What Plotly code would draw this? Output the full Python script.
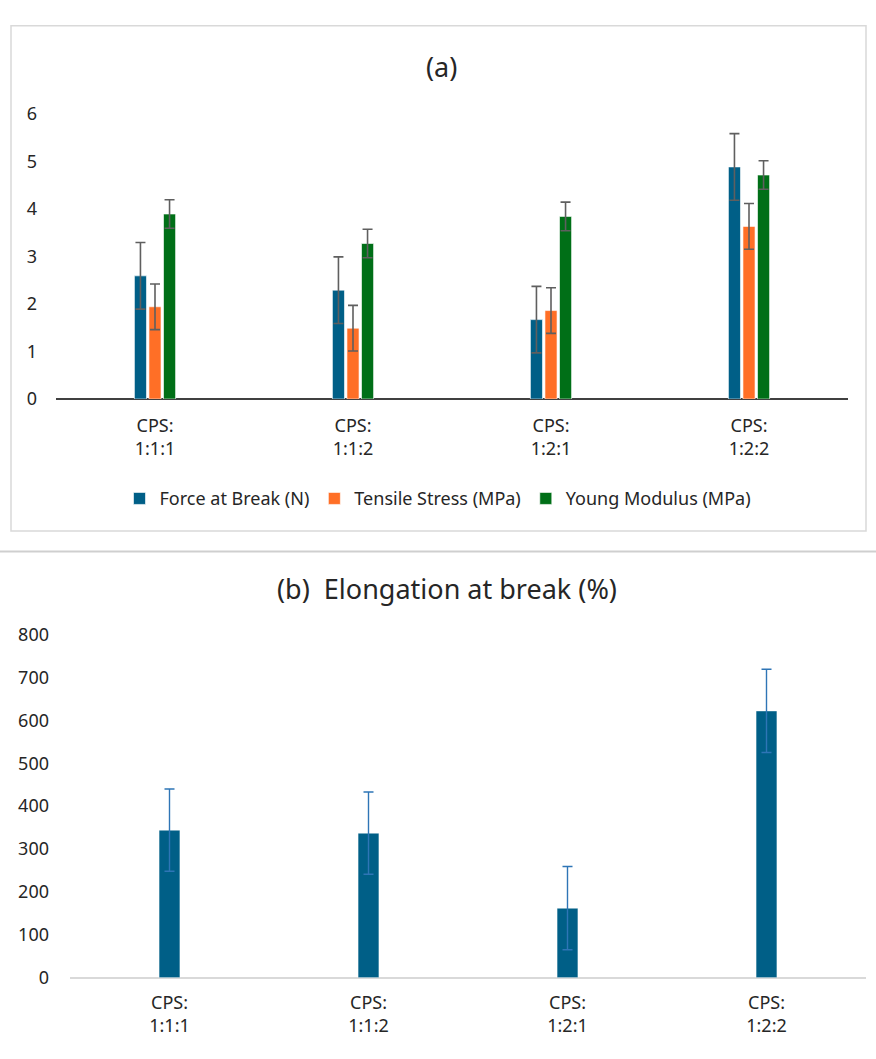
import plotly.graph_objects as go

W, H = 876, 1059

# --- data -------------------------------------------------------------
categories = ["CPS:<br>1:1:1", "CPS:<br>1:1:2", "CPS:<br>1:2:1", "CPS:<br>1:2:2"]

force_at_break = [2.59, 2.29, 1.67, 4.88]
force_err = [0.70, 0.70, 0.70, 0.70]

tensile_stress = [1.94, 1.49, 1.86, 3.63]
tensile_err = [0.48, 0.48, 0.48, 0.48]

young_modulus = [3.89, 3.27, 3.84, 4.71]
young_err = [0.30, 0.30, 0.30, 0.30]

elongation = [344, 337, 162, 622]
elongation_err = [96, 96, 97, 97]

# --- helpers ----------------------------------------------------------
def px_x(p):
    return p / W


def px_y(p):
    return 1 - p / H


FONT = "Noto Sans, Liberation Sans, Arial, sans-serif"
TXT = "#262626"

fig = go.Figure()

bar_w = 0.061
centres = [-0.0735, 0.0, 0.0735]
series = [
    ("Force at Break (N)", force_at_break, force_err, "#005F87"),
    ("Tensile Stress (MPa)", tensile_stress, tensile_err, "#FF6F26"),
    ("Young Modulus (MPa)", young_modulus, young_err, "#006F17"),
]
for (name, vals, errs, col), c in zip(series, centres):
    fig.add_trace(go.Bar(
        x=categories, y=vals, name=name,
        width=bar_w, offset=c - bar_w / 2,
        marker=dict(color=col, line=dict(color="rgba(255,255,255,0.6)", width=1)),
        error_y=dict(type="data", array=errs, visible=True,
                     color="#5f5f5f", thickness=1.6, width=5),
        xaxis="x", yaxis="y",
    ))

fig.add_trace(go.Bar(
    x=categories, y=elongation, name="Elongation at break (%)",
    width=0.105, showlegend=False,
    marker=dict(color="#005F87", line=dict(color="rgba(255,255,255,0.5)", width=1)),
    error_y=dict(type="data", array=elongation_err, visible=True,
                 color="#2E75B6", thickness=1.4, width=5),
    xaxis="x2", yaxis="y2",
))

tick_font = dict(family=FONT, size=18, color=TXT)

fig.update_layout(
    width=W, height=H,
    margin=dict(l=0, r=0, t=0, b=0),
    paper_bgcolor="white", plot_bgcolor="white",
    barmode="overlay",
    font=dict(family=FONT, color=TXT),
    xaxis=dict(domain=[px_x(56), px_x(848)], anchor="y",
               showgrid=False, showline=False, zeroline=False,
               ticks="", tickfont=tick_font, ticklabelstandoff=14,
               fixedrange=True),
    yaxis=dict(domain=[px_y(395), px_y(103)], anchor="x",
               range=[0, 6], dtick=1, showgrid=False,
               zeroline=True, zerolinecolor="#404040", zerolinewidth=2.2,
               showline=False, ticks="", tickfont=tick_font,
               ticklabelstandoff=18),
    xaxis2=dict(domain=[px_x(70), px_x(866)], anchor="y2",
                showgrid=False, showline=False, zeroline=False,
                ticks="", tickfont=tick_font, ticklabelstandoff=12),
    yaxis2=dict(domain=[px_y(987), px_y(636)], anchor="x2",
                range=[0, 800], dtick=100, showgrid=False,
                zeroline=True, zerolinecolor="#d9d9d9", zerolinewidth=1.6,
                showline=False, ticks="", tickfont=tick_font,
                ticklabelstandoff=20),
    legend=dict(orientation="h", x=0.5, xanchor="center",
                y=px_y(497), yanchor="middle",
                font=dict(family=FONT, size=18, color=TXT),
                itemwidth=30, traceorder="normal",
                bgcolor="rgba(0,0,0,0)"),
    showlegend=True,
)

# panel titles
fig.add_annotation(text="(a)", x=px_x(441), y=px_y(55), xref="paper", yref="paper",
                   showarrow=False, font=dict(family=FONT, size=27, color=TXT),
                   xanchor="center", yanchor="middle")
fig.add_annotation(text="(b)  Elongation at break (%)", x=px_x(447), y=px_y(589),
                   xref="paper", yref="paper", showarrow=False,
                   font=dict(family=FONT, size=27, color=TXT),
                   xanchor="center", yanchor="middle")

# frame around panel (a) and the divider below it
fig.add_shape(type="rect", xref="paper", yref="paper",
              x0=px_x(11), x1=px_x(866), y0=px_y(530), y1=px_y(13),
              line=dict(color="#d9d9d9", width=1.5))
fig.add_shape(type="line", xref="paper", yref="paper",
              x0=0, x1=1, y0=px_y(551), y1=px_y(551),
              line=dict(color="#cfcfcf", width=2))

fig.write_html("out.html")
